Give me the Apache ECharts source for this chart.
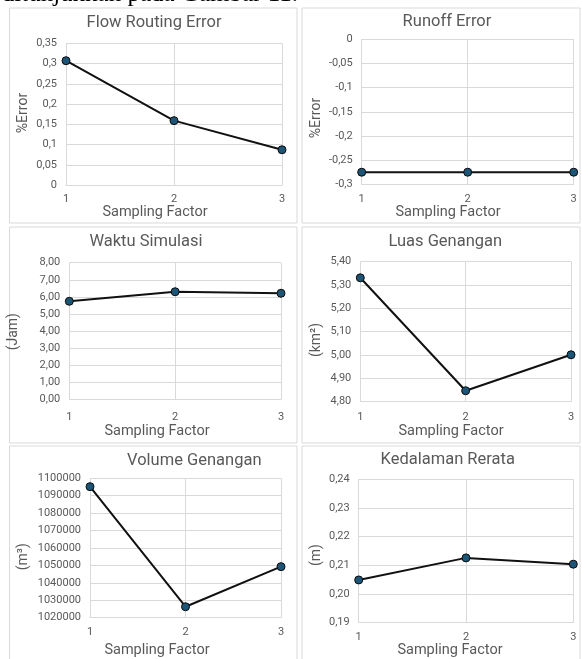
<!DOCTYPE html>
<html><head><meta charset="utf-8">
<script src="https://cdn.jsdelivr.net/npm/echarts@6/dist/echarts.min.js"></script>
<style>html,body{margin:0;padding:0;background:#fff}#c{width:582px;height:659px}</style>
</head><body><div id="c"></div>
<script>
// ---- data ----
const categories = ['1', '2', '3'];
const flowRoutingError = [0.307, 0.159, 0.087];
const runoffError = [-0.275, -0.275, -0.275];
const waktuSimulasi = [5.74, 6.30, 6.21];
const luasGenangan = [5.331, 4.847, 5.001];
const volumeGenangan = [1095200, 1026300, 1049300];
const kedalamanRerata = [0.2049, 0.2126, 0.2104];

const titles = ['Flow Routing Error', 'Runoff Error', 'Waktu Simulasi', 'Luas Genangan', 'Volume Genangan', 'Kedalaman Rerata'];
const yNames = ['%Error', '%Error', '(Jam)', '(km²)', '(m³)', '(m)'];
const xName = 'Sampling Factor';
const yMin = [0, -0.3, 0, 4.8, 1020000, 0.19];
const yMax = [0.35, 0, 8, 5.4, 1100000, 0.24];
const yStep = [0.05, 0.05, 1, 0.1, 10000, 0.01];
const yDecimals = [null, null, 2, 2, 0, 2];
const seriesData = [flowRoutingError, runoffError, waktuSimulasi, luasGenangan, volumeGenangan, kedalamanRerata];

// ---- layout ----
const panels = [
  [9.5, 8, 287.5, 215], [302, 8, 278, 215],
  [9.5, 227, 287.5, 216], [302, 227, 278, 216],
  [9.5, 446, 287.5, 220], [302, 446, 278, 220]
];
const grids = [
  {left: 66, top: 43.3, width: 216, height: 141.7},
  {left: 361.7, top: 39.3, width: 212, height: 145},
  {left: 69.3, top: 262.7, width: 211.7, height: 136.6},
  {left: 360.3, top: 261.7, width: 210.7, height: 140},
  {left: 90, top: 478.3, width: 191, height: 139.4},
  {left: 358.7, top: 479.3, width: 214.6, height: 143.4}
];
const titlePos = [[154, 22.5], [447, 22], [146, 242.3], [445.3, 242.3], [194.3, 461], [447.7, 460]];
const yNamePos = [[23, 113], [316, 118], [13.3, 331.7], [316, 340], [23, 556.7], [316, 555]];
const xNamePos = [[155, 212], [448, 212], [157, 431.7], [451, 431.7], [157, 650], [450, 650]];
const xLabelMargin = [10, 10, 13, 11, 10, 10];

const FONT = 'Roboto';
const TXT = '#595959';
const GRIDC = '#d9d9d9';

function fmt(i) {
  return function (v) {
    if (yDecimals[i] === null) return String(parseFloat(v.toFixed(4))).replace('.', ',');
    return v.toFixed(yDecimals[i]).replace('.', ',');
  };
}

const graphic = [];
panels.forEach(p => graphic.push({
  type: 'rect', shape: {x: p[0], y: p[1], width: p[2], height: p[3]},
  style: {fill: 'none', stroke: GRIDC, lineWidth: 1}, silent: true, z: 0
}));
graphic.push({
  type: 'text', x: 298, y: -6,
  style: {text: 'ditunjukkan pada Gambar 11.', font: '25px "Liberation Serif"', fill: '#000', align: 'right', verticalAlign: 'middle'}
});
for (let i = 0; i < 6; i++) {
  graphic.push({type: 'text', x: titlePos[i][0], y: titlePos[i][1],
    style: {text: titles[i], font: '16.5px ' + FONT, fill: TXT, align: 'center', verticalAlign: 'middle'}});
  graphic.push({type: 'text', x: yNamePos[i][0], y: yNamePos[i][1], rotation: Math.PI / 2,
    style: {text: yNames[i], font: '14px ' + FONT, fill: TXT, align: 'center', verticalAlign: 'middle'}});
  graphic.push({type: 'text', x: xNamePos[i][0], y: xNamePos[i][1],
    style: {text: xName, font: '14.5px ' + FONT, fill: TXT, align: 'center', verticalAlign: 'middle'}});
}

const option = {
  backgroundColor: '#fff',
  animation: false,
  graphic: graphic,
  grid: grids.map(g => Object.assign({containLabel: false}, g)),
  xAxis: grids.map((g, i) => ({
    type: 'category', gridIndex: i, data: categories, boundaryGap: false,
    axisLine: {show: true, onZero: false, lineStyle: {color: GRIDC, width: 1}},
    axisTick: {show: false},
    axisLabel: {color: TXT, fontFamily: FONT, fontSize: 11, margin: xLabelMargin[i] - 1},
    splitLine: {show: true, lineStyle: {color: GRIDC, width: 1}}
  })),
  yAxis: grids.map((g, i) => ({
    type: 'value', gridIndex: i, min: yMin[i], max: yMax[i], interval: yStep[i],
    axisLine: {show: false}, axisTick: {show: false},
    axisLabel: {color: TXT, fontFamily: FONT, fontSize: 11, margin: 9, formatter: fmt(i)},
    splitLine: {show: true, lineStyle: {color: GRIDC, width: 1}}
  })),
  series: seriesData.map((d, i) => ({
    type: 'line', xAxisIndex: i, yAxisIndex: i, data: d,
    symbol: 'circle', symbolSize: 8,
    lineStyle: {color: '#111', width: 2},
    itemStyle: {color: '#1d5577', borderColor: '#0a0a0a', borderWidth: 1}
  }))
};
const chart = echarts.init(document.getElementById('c'), null, {renderer: 'canvas'});
chart.setOption(option);
</script>
</body></html>
